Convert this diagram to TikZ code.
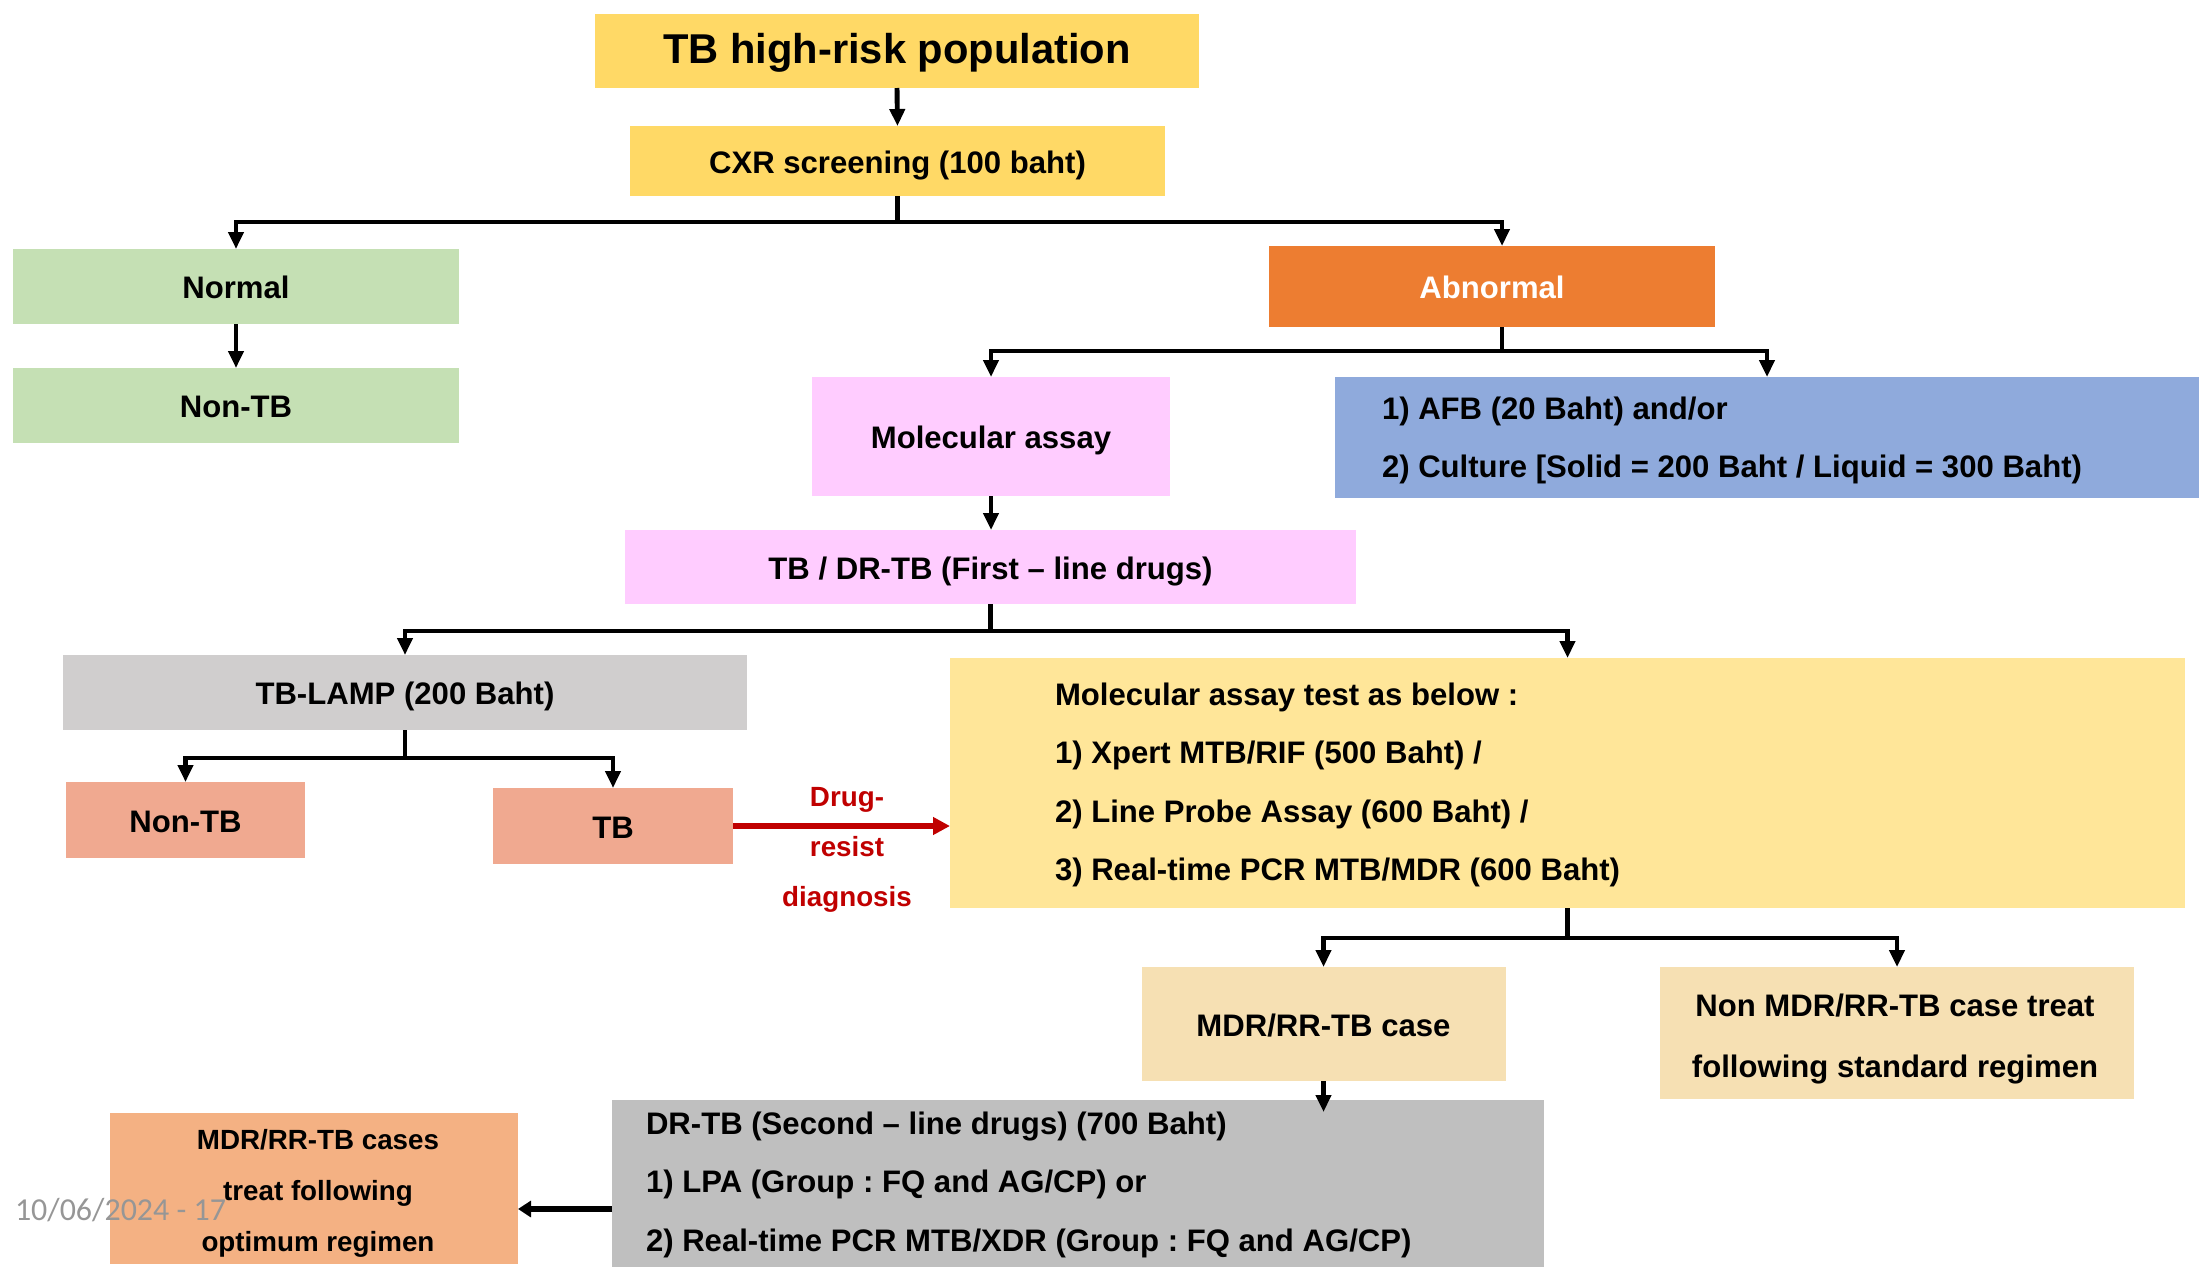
\documentclass[tikz,border=0pt]{standalone}
\usepackage{fontspec}
\setmainfont{Liberation Sans}
\newfontfamily\datefont{Carlito}
\usetikzlibrary{arrows.meta,calc}
\definecolor{cYel}{HTML}{FFD966}
\definecolor{cGreen}{HTML}{C5E0B4}
\definecolor{cOrange}{HTML}{ED7D31}
\definecolor{cPink}{HTML}{FFCCFF}
\definecolor{cBlue}{HTML}{8FAADC}
\definecolor{cGray}{HTML}{D0CECE}
\definecolor{cSalmon}{HTML}{F0A990}
\definecolor{cLightYel}{HTML}{FFE699}
\definecolor{cWheat}{HTML}{F6E0B3}
\definecolor{cGrayB}{HTML}{BFBFBF}
\definecolor{cPeach}{HTML}{F4B183}
\definecolor{cRed}{HTML}{C00000}
\definecolor{cDate}{HTML}{969696}
\frenchspacing
\begin{document}
\begin{tikzpicture}[
  box/.style={draw=none, inner sep=0pt, outer sep=0pt, align=center,
    text height=0.72em, text depth=0.02em,
    font=\fontsize{8.85}{10}\selectfont\bfseries},
  txt/.style={inner sep=0pt, outer sep=0pt},
  bodytext/.style={txt, align=left, font=\fontsize{8.85}{16.6}\selectfont\bfseries},
  lineonly/.style={line width=1.4pt},
  conn/.style={line width=1.4pt, -{Triangle[length=0.17cm,width=0.15cm]}},
  redconn/.style={line width=1.5pt, draw=cRed, -{Triangle[length=0.17cm,width=0.17cm]}},
  backconn/.style={line width=1.6pt, -{Triangle[length=0.13cm,width=0.16cm]}}
]
\useasboundingbox (0,0) rectangle (21.99,-12.67);

% boxes
\node[box, fill=cYel, minimum width=6.04cm, minimum height=0.74cm,
  font=\fontsize{11.86}{13}\selectfont\bfseries] (high) at (8.97,-0.51) {TB high-risk population};
\node[box, fill=cYel, minimum width=5.35cm, minimum height=0.70cm] (cxr) at (8.975,-1.61) {CXR screening (100 baht)};
\node[box, fill=cGreen, minimum width=4.46cm, minimum height=0.75cm] (normal) at (2.36,-2.865) {Normal};
\node[box, fill=cGreen, minimum width=4.46cm, minimum height=0.75cm] (nontbA) at (2.36,-4.055) {Non-TB};
\node[box, fill=cOrange, text=white, minimum width=4.46cm, minimum height=0.81cm] (abnormal) at (14.92,-2.865) {Abnormal};
\node[box, fill=cPink, minimum width=3.58cm, minimum height=1.19cm] (mol) at (9.91,-4.365) {Molecular assay};
\node[box, fill=cBlue, minimum width=8.64cm, minimum height=1.21cm] (afb) at (17.67,-4.375) {};
\node[bodytext, anchor=west, font=\fontsize{8.85}{16.5}\selectfont\bfseries] (afbtext) at (13.82,-4.40)
  {1)\ AFB (20 Baht) and/or\\2)\ Culture [Solid = 200 Baht / Liquid = 300 Baht)};
\node[box, fill=cPink, minimum width=7.31cm, minimum height=0.74cm] (tbdr) at (9.905,-5.67) {TB / DR-TB (First – line drugs)};
\node[box, fill=cGray, minimum width=6.84cm, minimum height=0.75cm] (lamp) at (4.05,-6.925) {TB-LAMP (200 Baht)};
\node[box, fill=cSalmon, minimum width=2.39cm, minimum height=0.76cm] (nontbB) at (1.855,-8.20) {Non-TB};
\node[box, fill=cSalmon, minimum width=2.40cm, minimum height=0.76cm] (tb) at (6.13,-8.26) {TB};
\node[box, fill=cLightYel, minimum width=12.35cm, minimum height=2.50cm] (yellow) at (15.675,-7.83) {};
\node[bodytext, anchor=west, font=\fontsize{8.85}{16.6}\selectfont\bfseries] (yeltext) at (10.55,-7.85)
  {Molecular assay test as below :\\1)\ Xpert MTB/RIF (500 Baht) /\\2)\ Line Probe Assay (600 Baht) /\\3)\ Real-time PCR MTB/MDR (600 Baht)};
\node[txt, align=center, text=cRed, font=\fontsize{7.9}{14.2}\selectfont\bfseries] (drlab) at (8.47,-8.50)
  {Drug-\\resist\\diagnosis};
\node[box, fill=cWheat, minimum width=3.64cm, minimum height=1.14cm] (mdrcase) at (13.235,-10.24) {MDR/RR-TB case};
\node[box, fill=cWheat, minimum width=4.74cm, minimum height=1.32cm] (nonmdr) at (18.97,-10.33) {};
\node[txt, align=center, font=\fontsize{8.85}{17.1}\selectfont\bfseries] (nonmdrtext) at (18.95,-10.39)
  {Non MDR/RR-TB case treat\\following standard regimen};
\node[box, fill=cGrayB, minimum width=9.32cm, minimum height=1.67cm] (drtb2) at (10.78,-11.835) {};
\node[bodytext, anchor=west, font=\fontsize{8.85}{16.64}\selectfont\bfseries] (drtb2text) at (6.46,-11.845)
  {DR-TB (Second – line drugs) (700 Baht)\\1)\ LPA (Group : FQ and AG/CP) or\\2)\ Real-time PCR MTB/XDR (Group : FQ and AG/CP)};
\node[box, fill=cPeach, minimum width=4.08cm, minimum height=1.51cm] (mdrcases) at (3.14,-11.885) {};
\node[txt, align=center, font=\fontsize{7.9}{14.5}\selectfont\bfseries] (mdrcasestext) at (3.18,-11.93)
  {MDR/RR-TB cases\\treat following\\optimum regimen};

% connectors
\draw[conn] (high.south) -- (cxr.north);
\coordinate (b1) at ($(cxr.south)+(0,-0.26)$);
\draw[lineonly] (cxr.south) -- (b1);
\draw[conn] (b1) -| (normal.north);
\draw[conn] (b1) -| ([xshift=0.1cm]abnormal.north);
\draw[conn] (normal.south) -- (nontbA.north);

\coordinate (a0) at ($(abnormal.south)+(0.1,0)$);
\coordinate (b2) at ($(a0)+(0,-0.24)$);
\draw[lineonly] (a0) -- (b2);
\draw[conn] (b2) -| (mol.north);
\draw[conn] (b2) -| (afb.north);

\draw[conn] (mol.south) -- (mol.south |- tbdr.north);

\coordinate (b3) at ($(tbdr.south)+(0,-0.27)$);
\draw[lineonly] (tbdr.south) -- (b3);
\draw[conn] (b3) -| (lamp.north);
\draw[conn] (b3) -| (yellow.north);

\coordinate (b4) at ($(lamp.south)+(0,-0.28)$);
\draw[lineonly] (lamp.south) -- (b4);
\draw[conn] (b4) -| (nontbB.north);
\draw[conn] (b4) -| (tb.north);

\draw[redconn] (tb.east) -- (tb.east -| yellow.west);

\coordinate (b5) at ($(yellow.south)+(0,-0.30)$);
\draw[lineonly] (yellow.south) -- (b5);
\draw[conn] (b5) -| (mdrcase.north);
\draw[conn] (b5) -| (nonmdr.north);

\coordinate (m1) at ($(mdrcase.south |- drtb2.north)+(0,-0.12)$);
\draw[conn] (mdrcase.south) -- (m1);

\coordinate (c6) at ($(drtb2.west)+(0,-0.255)$);
\draw[backconn] (c6) -- (c6 -| mdrcases.east);

% date stamp
\node[txt, anchor=west, text=cDate, font=\datefont\fontsize{9.1}{11}\selectfont] (date) at (0.15,-12.10) {10/06/2024 - 17};
\end{tikzpicture}
\end{document}
